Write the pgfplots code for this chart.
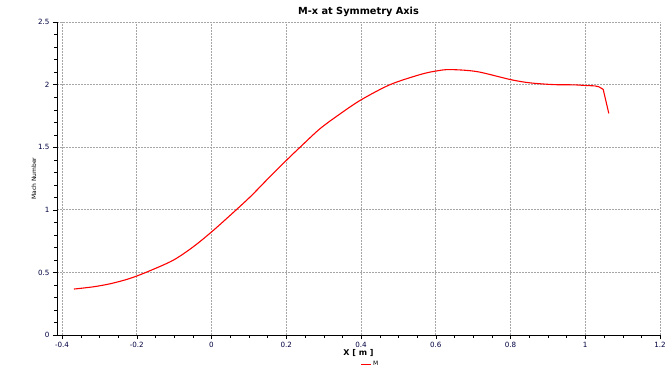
\documentclass[border=0pt]{standalone}
\usepackage{pgfplots}
\pgfplotsset{compat=1.18}
\usepackage{fontspec}
\setmainfont{DejaVu Sans}
\begin{document}
\begin{tikzpicture}
\path[use as bounding box] (-57bp,-34bp) rectangle (613bp,335bp);
\begin{axis}[
  at={(0,0)}, anchor=south west,
  scale only axis, width=603bp, height=313bp,
  xmin=-0.4134, xmax=1.2, ymin=0, ymax=2.5,
  axis lines*=left,
  axis line style={black, thin},
  tick align=outside,
  xtick={-0.4,-0.2,0,0.2,0.4,0.6,0.8,1,1.2},
  ytick={0,0.5,1,1.5,2,2.5},
  minor x tick num=3, minor y tick num=4,
  major tick length=4bp, minor tick length=2.5bp,
  tick style={black},
  grid=major,
  major grid style={black!35, line width=0.6bp, dash pattern=on 0.6bp off 0.9bp},
  /pgf/number format/assume math mode=true,
  ticklabel style={font=\fontsize{7.2}{8}\selectfont, text=black!75!blue},
  title={\bfseries M-x at Symmetry Axis},
  title style={font=\fontsize{9.8}{11}\selectfont, yshift=-4.5bp},
  xlabel={\bfseries X [ m ]},
  xlabel style={font=\fontsize{8}{9}\selectfont, yshift=5.5bp},
  ylabel={Mach Number},
  ylabel style={font=\fontsize{6}{7}\selectfont, yshift=-5bp},
  legend style={at={(0.52,-0.078)}, anchor=north, draw=none, fill=none,
    font=\fontsize{6}{7}\selectfont, inner sep=0pt},
  legend image code/.code={\draw[red, line width=1bp] (0,0) -- (0.32cm,0);},
  legend cell align=left,
]
\addplot[red, line width=1.1bp, smooth, tension=0.5] coordinates {
(-0.368,0.367) (-0.316,0.385) (-0.27,0.41) (-0.218,0.452) (-0.165,0.513) (-0.102,0.598)
(-0.049,0.704) (0,0.823) (0.05,0.956) (0.103,1.102) (0.15,1.245) (0.2,1.394) (0.237,1.50)
(0.29,1.647) (0.344,1.766) (0.4,1.878) (0.478,2.0) (0.558,2.08) (0.6,2.108)
(0.638,2.12) (0.71,2.104) (0.8,2.04) (0.852,2.014) (0.915,2.0) (0.97,1.998)
(1.0,1.993) (1.025,1.99)};
\addlegendentry{M}
\addplot[red, line width=1.1bp, forget plot] coordinates {
(1.025,1.99) (1.036,1.983) (1.048,1.962) (1.063,1.77)};
\end{axis}
\end{tikzpicture}
\end{document}
